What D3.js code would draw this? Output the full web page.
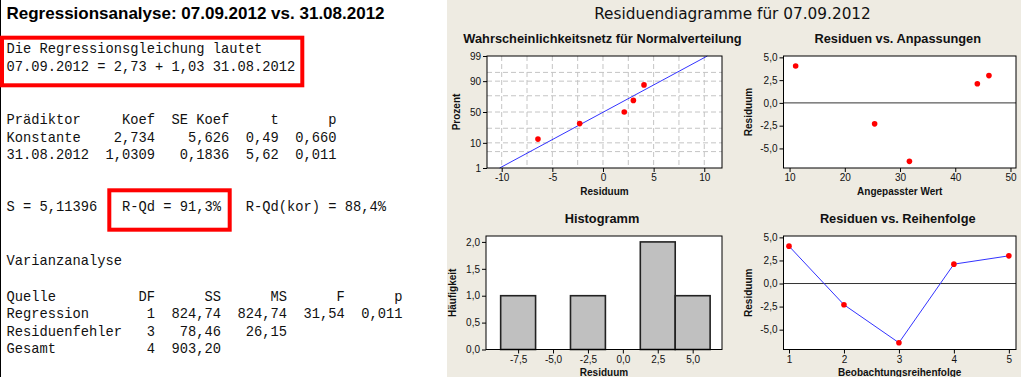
<!DOCTYPE html>
<html>
<head>
<meta charset="utf-8">
<script src="https://cdn.jsdelivr.net/npm/d3@7"></script>
<style>
  body { margin: 0; background: #fff; }
  svg { display: block; }
</style>
</head>
<body>
<svg id="chart"></svg>
<script>
// ================= DONNEES ================= //
// Partie texte (sortie Minitab)
const titelLinks = "Regressionsanalyse: 07.09.2012 vs. 31.08.2012";
const gleichung = ["Die Regressionsgleichung lautet", "07.09.2012 = 2,73 + 1,03 31.08.2012"];
const kopfKoef = ["Prädiktor", "Koef", "SE Koef", "t", "p"];
const praediktoren = ["Konstante", "31.08.2012"];
const koef = ["2,734", "1,0309"];
const seKoef = ["5,626", "0,1836"];
const tWerte = ["0,49", "5,62"];
const pWerte = ["0,660", "0,011"];
const sWert = "5,11396";
const rQd = "91,3%";
const rQdKor = "88,4%";
const kopfAnova = ["Quelle", "DF", "SS", "MS", "F", "p"];
const quellen = ["Regression", "Residuenfehler", "Gesamt"];
const dfWerte = ["1", "3", "4"];
const ssWerte = ["824,74", "78,46", "903,20"];
const msWerte = ["824,74", "26,15", ""];
const fWerte = ["31,54", "", ""];
const pAnova = ["0,011", "", ""];

// Residuendiagramme
const titelRechts = "Residuendiagramme für 07.09.2012";
const beobachtung = [1, 2, 3, 4, 5];
const residuen = [4.05, -2.3, -6.42, 2.1, 3.0];
const angepasst = [11.1, 25.4, 31.7, 44.0, 46.1];
const prozent = [87, 31.5, 13, 50, 68.5];       // Wahrscheinlichkeitsnetz, même ordre que residuen
const fitLinieX = [-10.2, 10.3];
const fitLinieP = [1, 99];
const probTicks = [1, 10, 50, 90, 99];
const probGitter = [5, 10, 25, 50, 75, 90, 95];
const resTicksX = [-10, -5, 0, 5, 10];
const resGitterX = [-10, -7.5, -5, -2.5, 0, 2.5, 5, 7.5, 10];
const histMitte = [-7.5, -5, -2.5, 0, 2.5, 5];
const histAnzahl = [1, 0, 1, 0, 2, 1];
const histBreite = 2.5;
const histTicksY = [0, 0.5, 1, 1.5, 2];
const residTicks = [-5, -2.5, 0, 2.5, 5];
const fitTicks = [10, 20, 30, 40, 50];

// ================= CONSTANTES ================= //
const width = 1021;
const height = 377;
const beige = "#EEEBE2";
const monoFont = "'Liberation Mono', 'Courier New', monospace";
const sansFont = "'Liberation Sans', Arial, sans-serif";

const svg = d3.select("#chart")
    .attr("width", width)
    .attr("height", height);

// format allemand (virgule décimale, tiret simple)
const de = d3.formatLocale({ decimal: ",", thousands: ".", grouping: [3], currency: ["", " €"], minus: "-" });
const fmt1 = de.format(".1f");
const fmt0 = de.format("d");

// quantile de la loi normale (approximation d'Acklam) -> échelle du papier de probabilité
function probit(p) {
    const a = [-39.69683028665376, 220.9460984245205, -275.9285104469687, 138.3577518672690, -30.66479806614716, 2.506628277386902];
    const b = [-54.47609879822406, 161.5858368580409, -155.6989798598866, 66.80131188771972, -13.28068155288572];
    const c = [-0.007784894002430293, -0.3223964580411365, -2.400758277161838, -2.549732539343734, 4.374664141464968, 2.938163982698783];
    const d = [0.007784695709041462, 0.3224671290700398, 2.445134137142996, 3.754408661907416];
    const pl = 0.02425;
    let q, r;
    if (p < pl) {
        q = Math.sqrt(-2 * Math.log(p));
        return (((((c[0]*q+c[1])*q+c[2])*q+c[3])*q+c[4])*q+c[5]) / ((((d[0]*q+d[1])*q+d[2])*q+d[3])*q+1);
    }
    if (p > 1 - pl) {
        q = Math.sqrt(-2 * Math.log(1 - p));
        return -(((((c[0]*q+c[1])*q+c[2])*q+c[3])*q+c[4])*q+c[5]) / ((((d[0]*q+d[1])*q+d[2])*q+d[3])*q+1);
    }
    q = p - 0.5; r = q * q;
    return (((((a[0]*r+a[1])*r+a[2])*r+a[3])*r+a[4])*r+a[5])*q / (((((b[0]*r+b[1])*r+b[2])*r+b[3])*r+b[4])*r+1);
}

// ================= FONDS ================= //
svg.append("rect").attr("width", width).attr("height", height).attr("fill", "#fff");
svg.append("line")
    .attr("x1", 0.5).attr("x2", 0.5).attr("y1", 0).attr("y2", height)
    .attr("stroke", "#000");
svg.append("rect")
    .attr("x", 447).attr("y", 0).attr("width", width - 447).attr("height", height)
    .attr("fill", beige);

// ================= PARTIE GAUCHE : TEXTE ================= //
svg.append("text")
    .attr("x", 6.5).attr("y", 18.5)
    .style("font-family", sansFont).style("font-weight", "bold").style("font-size", "17px")
    .text(titelLinks);

// lignes alignées comme dans la sortie Minitab
const koefZeile = r => r[0].padEnd(10) + r[1].padStart(8) + r[2].padStart(9) + r[3].padStart(6) + r[4].padStart(7);
const anovaZeile = r => r[0].padEnd(14) + r[1].padStart(4) + r[2].padStart(8) + r[3].padStart(8) + r[4].padStart(7) + r[5].padStart(7);

const zeilen = [
    { y: 53, t: gleichung[0] },
    { y: 70.5, t: gleichung[1] },
    { y: 124, t: koefZeile(kopfKoef) },
    ...praediktoren.map((p, i) => ({ y: 141.5 + i * 17.5, t: koefZeile([p, koef[i], seKoef[i], tWerte[i], pWerte[i]]) })),
    { y: 211, t: `S = ${sWert}   R-Qd = ${rQd}   R-Qd(kor) = ${rQdKor}` },
    { y: 265, t: "Varianzanalyse" },
    { y: 300.5, t: anovaZeile(kopfAnova) },
    ...quellen.map((q, i) => ({ y: 318 + i * 17.5, t: anovaZeile([q, dfWerte[i], ssWerte[i], msWerte[i], fWerte[i], pAnova[i]]) }))
];

svg.append("g").selectAll("text")
    .data(zeilen)
    .enter()
    .append("text")
    .attr("x", 6.5)
    .attr("y", d => d.y)
    .attr("xml:space", "preserve")
    .style("white-space", "pre")
    .style("font-family", monoFont)
    .style("font-size", "13.75px")
    .attr("fill", "#111")
    .text(d => d.t);

// cadres rouges
svg.append("rect")
    .attr("x", 2).attr("y", 37.7).attr("width", 300.3).attr("height", 47.6)
    .attr("fill", "none").attr("stroke", "#ff0000").attr("stroke-width", 4);
svg.append("rect")
    .attr("x", 109.3).attr("y", 190.3).attr("width", 120.4).attr("height", 39.4)
    .attr("fill", "none").attr("stroke", "#ff0000").attr("stroke-width", 4);

// ================= PARTIE DROITE : GRAPHIQUES ================= //
svg.append("text")
    .attr("x", 732.5).attr("y", 18.5)
    .attr("text-anchor", "middle")
    .style("font-family", "'DejaVu Sans', Verdana, sans-serif").style("font-size", "15.3px")
    .attr("fill", "#111")
    .text(titelRechts);

// panneau : fond blanc, titre, étiquettes d'axes
function panneau(box, titel, xTitel, yTitel, titelY) {
    const g = svg.append("g");
    g.append("rect")
        .attr("x", box.x0).attr("y", box.y0)
        .attr("width", box.x1 - box.x0).attr("height", box.y1 - box.y0)
        .attr("fill", "#fff");
    g.append("text")
        .attr("x", (box.x0 + box.x1) / 2 - 2).attr("y", titelY)
        .attr("text-anchor", "middle")
        .style("font-family", sansFont).style("font-weight", "bold").style("font-size", "12.8px")
        .attr("fill", "#111")
        .text(titel);
    g.append("text")
        .attr("x", (box.x0 + box.x1) / 2).attr("y", box.y1 + 26.5)
        .attr("text-anchor", "middle")
        .style("font-family", sansFont).style("font-weight", "bold").style("font-size", "10px")
        .attr("fill", "#111")
        .text(xTitel);
    g.append("text")
        .attr("transform", `translate(${box.yt},${(box.y0 + box.y1) / 2}) rotate(-90)`)
        .attr("text-anchor", "middle")
        .style("font-family", sansFont).style("font-weight", "bold").style("font-size", "10px")
        .attr("fill", "#111")
        .text(yTitel);
    return g;
}

function rahmen(box) {
    svg.append("rect")
        .attr("x", box.x0).attr("y", box.y0)
        .attr("width", box.x1 - box.x0).attr("height", box.y1 - box.y0)
        .attr("fill", "none").attr("stroke", "#000").attr("stroke-width", 1);
}

function achsenStil(sel) {
    sel.select(".domain").remove();
    sel.selectAll(".tick line").attr("stroke", "#000");
    sel.selectAll(".tick text")
        .style("font-family", sansFont).style("font-size", "10px")
        .attr("fill", "#111");
}

const punktFarbe = "#ff0000";
const linieFarbe = "#3333ff";

// ----- 1 : Wahrscheinlichkeitsnetz für Normalverteilung ----- //
const box1 = { x0: 487, x1: 722, y0: 56, y1: 168, yt: 460 };
const g1 = panneau(box1, "Wahrscheinlichkeitsnetz für Normalverteilung", "Residuum", "Prozent", 43.3);
const x1 = d3.scaleLinear().domain([-11.45, 11.75]).range([box1.x0, box1.x1]);
const z1 = d3.scaleLinear().domain([probit(0.01), probit(0.99)]).range([box1.y1, box1.y0]);

g1.append("g").selectAll("line")
    .data(resGitterX)
    .enter().append("line")
    .attr("x1", d => x1(d)).attr("x2", d => x1(d))
    .attr("y1", box1.y0).attr("y2", box1.y1)
    .attr("stroke", "#c4c4c4").attr("stroke-dasharray", "5,3");
g1.append("g").selectAll("line")
    .data(probGitter)
    .enter().append("line")
    .attr("x1", box1.x0).attr("x2", box1.x1)
    .attr("y1", d => z1(probit(d / 100))).attr("y2", d => z1(probit(d / 100)))
    .attr("stroke", "#c4c4c4").attr("stroke-dasharray", "5,3");

g1.append("line")
    .attr("x1", x1(fitLinieX[0])).attr("y1", z1(probit(fitLinieP[0] / 100)))
    .attr("x2", x1(fitLinieX[1])).attr("y2", z1(probit(fitLinieP[1] / 100)))
    .attr("stroke", linieFarbe).attr("stroke-width", 1);

g1.append("g").selectAll("circle")
    .data(residuen)
    .enter().append("circle")
    .attr("cx", d => x1(d))
    .attr("cy", (d, i) => z1(probit(prozent[i] / 100)))
    .attr("r", 2.8)
    .attr("fill", punktFarbe);

g1.append("g")
    .attr("transform", `translate(0,${box1.y1})`)
    .call(d3.axisBottom(x1).tickValues(resTicksX).tickFormat(fmt0).tickSize(4).tickPadding(2))
    .call(achsenStil);
g1.append("g")
    .attr("transform", `translate(${box1.x0},0)`)
    .call(d3.axisLeft(z1).tickValues(probTicks.map(p => probit(p / 100))).tickFormat((d, i) => probTicks[i]).tickSize(4).tickPadding(2))
    .call(achsenStil);
rahmen(box1);

// ----- 2 : Residuen vs. Anpassungen ----- //
const box2 = { x0: 783.5, x1: 1016, y0: 56, y1: 168, yt: 752 };
const g2 = panneau(box2, "Residuen vs. Anpassungen", "Angepasster Wert", "Residuum", 43.3);
const x2 = d3.scaleLinear().domain([8.9, 51.0]).range([box2.x0, box2.x1]);
const y2 = d3.scaleLinear().domain([-7.15, 5.15]).range([box2.y1, box2.y0]);

g2.append("line")
    .attr("x1", box2.x0).attr("x2", box2.x1)
    .attr("y1", y2(0)).attr("y2", y2(0))
    .attr("stroke", "#333");
g2.append("g").selectAll("circle")
    .data(residuen)
    .enter().append("circle")
    .attr("cx", (d, i) => x2(angepasst[i]))
    .attr("cy", d => y2(d))
    .attr("r", 2.8)
    .attr("fill", punktFarbe);
g2.append("g")
    .attr("transform", `translate(0,${box2.y1})`)
    .call(d3.axisBottom(x2).tickValues(fitTicks).tickFormat(fmt0).tickSize(4).tickPadding(2))
    .call(achsenStil);
g2.append("g")
    .attr("transform", `translate(${box2.x0},0)`)
    .call(d3.axisLeft(y2).tickValues(residTicks).tickFormat(fmt1).tickSize(4).tickPadding(2))
    .call(achsenStil);
rahmen(box2);

// ----- 3 : Histogramm ----- //
const box3 = { x0: 486, x1: 722, y0: 236, y1: 349.5, yt: 456 };
const g3 = panneau(box3, "Histogramm", "Residuum", "Häufigkeit", 223.3);
const x3 = d3.scaleLinear().domain([-9.8, 7.1]).range([box3.x0, box3.x1]);
const y3 = d3.scaleLinear().domain([0, 2.11]).range([box3.y1, box3.y0]);

g3.append("g").selectAll("rect")
    .data(histMitte.map((m, i) => ({ m: m, n: histAnzahl[i] })).filter(d => d.n > 0))
    .enter().append("rect")
    .attr("x", d => x3(d.m - histBreite / 2))
    .attr("width", d => x3(d.m + histBreite / 2) - x3(d.m - histBreite / 2))
    .attr("y", d => y3(d.n))
    .attr("height", d => y3(0) - y3(d.n))
    .attr("fill", "#c0c0c0")
    .attr("stroke", "#222")
    .attr("stroke-width", 1.6);
g3.append("g")
    .attr("transform", `translate(0,${box3.y1})`)
    .call(d3.axisBottom(x3).tickValues(histMitte).tickFormat(fmt1).tickSize(4).tickPadding(2))
    .call(achsenStil);
g3.append("g")
    .attr("transform", `translate(${box3.x0},0)`)
    .call(d3.axisLeft(y3).tickValues(histTicksY).tickFormat(fmt1).tickSize(4).tickPadding(2))
    .call(achsenStil);
rahmen(box3);

// ----- 4 : Residuen vs. Reihenfolge ----- //
const box4 = { x0: 783.5, x1: 1016, y0: 236, y1: 349.5, yt: 752 };
const g4 = panneau(box4, "Residuen vs. Reihenfolge", "Beobachtungsreihenfolge", "Residuum", 223.3);
const x4 = d3.scaleLinear().domain([0.9, 5.13]).range([box4.x0, box4.x1]);
const y4 = d3.scaleLinear().domain([-7.15, 5.15]).range([box4.y1, box4.y0]);

g4.append("line")
    .attr("x1", box4.x0).attr("x2", box4.x1)
    .attr("y1", y4(0)).attr("y2", y4(0))
    .attr("stroke", "#333");
g4.append("path")
    .datum(residuen)
    .attr("d", d3.line().x((d, i) => x4(beobachtung[i])).y(d => y4(d)))
    .attr("fill", "none")
    .attr("stroke", linieFarbe)
    .attr("stroke-width", 1);
g4.append("g").selectAll("circle")
    .data(residuen)
    .enter().append("circle")
    .attr("cx", (d, i) => x4(beobachtung[i]))
    .attr("cy", d => y4(d))
    .attr("r", 2.8)
    .attr("fill", punktFarbe);
g4.append("g")
    .attr("transform", `translate(0,${box4.y1})`)
    .call(d3.axisBottom(x4).tickValues(beobachtung).tickFormat(fmt0).tickSize(4).tickPadding(2))
    .call(achsenStil);
g4.append("g")
    .attr("transform", `translate(${box4.x0},0)`)
    .call(d3.axisLeft(y4).tickValues(residTicks).tickFormat(fmt1).tickSize(4).tickPadding(2))
    .call(achsenStil);
rahmen(box4);
</script>
</body>
</html>
